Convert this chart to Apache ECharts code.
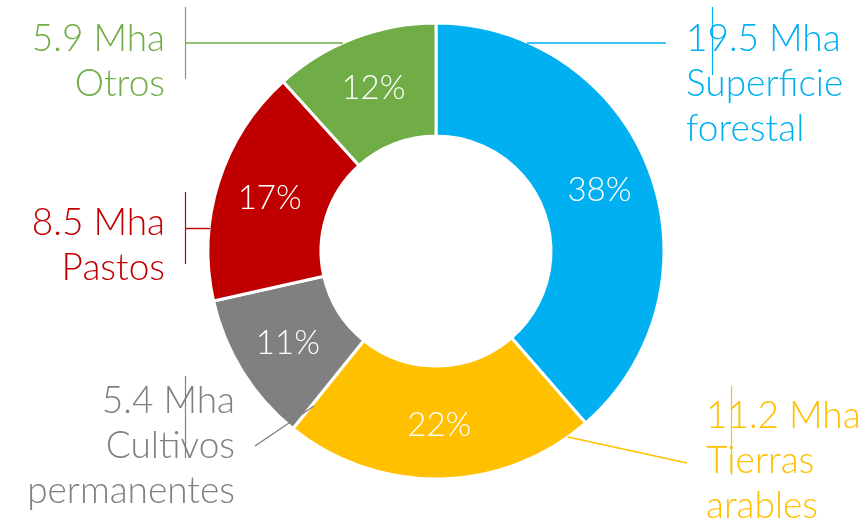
<!DOCTYPE html>
<html>
<head>
<meta charset="utf-8">
<script src="https://cdn.jsdelivr.net/npm/echarts@6/dist/echarts.min.js"></script>
<style>
  html, body { margin: 0; padding: 0; background: #fff; }
  #main { width: 859px; height: 528px; }
</style>
</head>
<body>
<div id="main"></div>
<script>
// datos (Mha) y porcentajes tal como aparecen en la figura
var categories = ['Superficie\nforestal', 'Tierras\narables', 'Cultivos\npermanentes', 'Pastos', 'Otros'];
var values = [19.5, 11.2, 5.4, 8.5, 5.9];
var shares = [38, 22, 11, 17, 12];
var colors = ['#00B0F0', '#FFC000', '#808080', '#C00000', '#70AD47'];

// posición de las etiquetas exteriores (estilo)
var labelPos = [
  { x: 686, y: 84, align: 'left' },
  { x: 706, y: 461, align: 'left' },
  { x: 235, y: 446, align: 'right' },
  { x: 165, y: 246, align: 'right' },
  { x: 165, y: 62, align: 'right' }
];
// líneas de llamada y marcas verticales (decoración de las etiquetas)
var linePts = [
  [[527, 43], [666, 43]],
  [[568, 437], [687, 463]],
  [[314, 406], [255, 446]],
  [[210, 228.5], [185, 228.5]],
  [[343, 43], [185, 43]]
];
var ticks = [
  [712, 7, 75],
  [731, 386, 475],
  [185, 376, 458],
  [185, 192, 264],
  [185, 7, 79]
];

var chart = echarts.init(document.getElementById('main'), null, { renderer: 'canvas' });
var font = 'Lato, "Open Sans", sans-serif';

var outerData = values.map(function (v, i) {
  return {
    value: v,
    name: categories[i],
    itemStyle: { color: colors[i] },
    label: { color: colors[i] }
  };
});
var innerData = values.map(function (v, i) {
  return { value: v, name: categories[i] };
});

var graphics = [];
linePts.forEach(function (pts, i) {
  graphics.push({
    type: 'polyline',
    shape: { points: pts },
    style: { stroke: colors[i], lineWidth: 1.4, fill: null },
    z: 10
  });
});
ticks.forEach(function (t, i) {
  graphics.push({
    type: 'line',
    shape: { x1: t[0] + 0.5, y1: t[1], x2: t[0] + 0.5, y2: t[2] },
    style: { stroke: colors[i], lineWidth: 1.2 },
    z: 10
  });
});

var option = {
  backgroundColor: '#fff',
  animation: false,
  graphic: graphics,
  series: [
    {
      type: 'pie',
      center: [436, 251],
      radius: [115, 228],
      startAngle: 90,
      clockwise: true,
      silent: true,
      itemStyle: { borderColor: '#fff', borderWidth: 3 },
      label: {
        show: true,
        position: 'outside',
        overflow: 'none',
        width: 300,
        fontFamily: font,
        fontWeight: 300,
        fontSize: 37,
        lineHeight: 45,
        formatter: function (p) {
          return values[p.dataIndex].toFixed(1) + ' Mha\n' + categories[p.dataIndex];
        }
      },
      labelLine: { show: false },
      labelLayout: function (p) {
        var lp = labelPos[p.dataIndex];
        return {
          x: lp.x,
          y: lp.y,
          align: lp.align,
          verticalAlign: 'middle'
        };
      },
      emphasis: { disabled: true },
      data: outerData
    },
    {
      type: 'pie',
      center: [436, 251],
      radius: [115, 228],
      startAngle: 90,
      clockwise: true,
      silent: true,
      z: 5,
      itemStyle: { color: 'rgba(0,0,0,0)' },
      label: {
        show: true,
        position: 'inside',
        color: '#fff',
        fontFamily: font,
        fontWeight: 300,
        fontSize: 33,
        formatter: function (p) {
          return shares[p.dataIndex] + '%';
        }
      },
      labelLine: { show: false },
      emphasis: { disabled: true },
      data: innerData
    }
  ]
};

chart.setOption(option);
</script>
</body>
</html>
